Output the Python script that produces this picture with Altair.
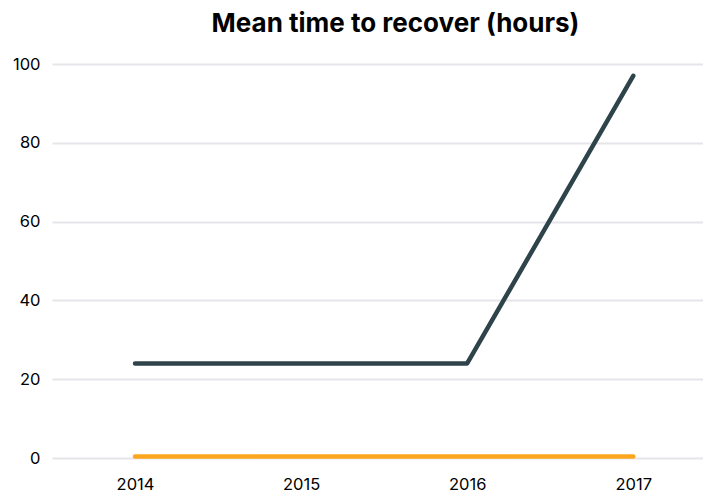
import altair as alt
import pandas as pd

years = [2014, 2015, 2016, 2017]
low_performers = [24, 24, 24, 97]
high_performers = [0.4, 0.4, 0.4, 0.4]
series_names = ["Low performers", "High performers"]
series_colors = ["#2e434a", "#fca61f"]

rows = []
for name, vals in zip(series_names, [low_performers, high_performers]):
    for y, v in zip(years, vals):
        rows.append({"year": y, "value": v, "series": name})
df = pd.DataFrame(rows)

font = "Inter"

chart = alt.Chart(df).mark_line(strokeWidth=4.5, strokeCap="round", strokeJoin="round").encode(
    x=alt.X("year:Q", scale=alt.Scale(domain=[2013.5, 2017.42], nice=False, zero=False),
            axis=alt.Axis(values=years, format="d", title=None, grid=False, domain=False,
                          ticks=False, labelFontSize=16.5, labelFont=font, labelColor="#000",
                          labelPadding=18)),
    y=alt.Y("value:Q", scale=alt.Scale(domain=[0, 100], nice=False),
            axis=alt.Axis(values=[0, 20, 40, 60, 80, 100], title=None, domain=False, ticks=False,
                          labelFontSize=16.5, labelFont=font, labelColor="#000", labelPadding=12,
                          gridColor="#e6e6ea", gridWidth=2)),
    color=alt.Color("series:N", scale=alt.Scale(domain=series_names, range=series_colors), legend=None),
).properties(
    width=651,
    height=394,
    title=alt.TitleParams("Mean time to recover (hours)", fontSize=26, font=font, fontWeight="bold",
                          color="#000", anchor="middle", offset=19, dx=18),
    autosize=alt.AutoSizeParams(type="none"),
    padding={"left": 44, "top": 56, "right": 0, "bottom": 36},
).configure_view(stroke=None)

chart.save("out.html", embed_options={"renderer": "svg", "actions": False})
